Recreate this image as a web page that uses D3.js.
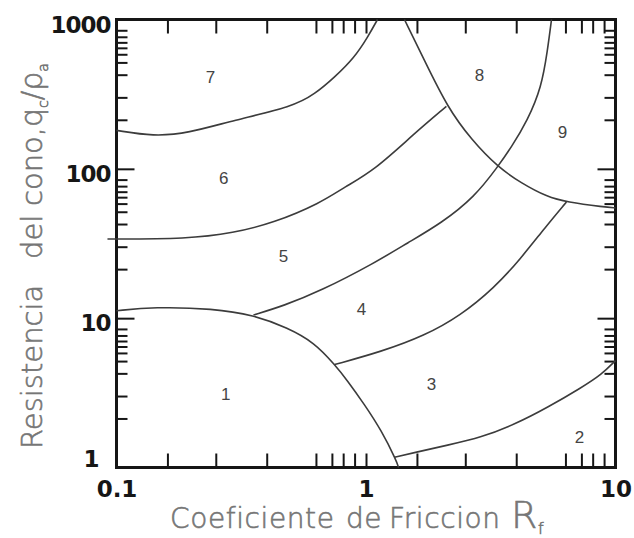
<!DOCTYPE html>
<html>
<head>
<meta charset="utf-8">
<script src="https://cdn.jsdelivr.net/npm/d3@7"></script>
<style>
  html, body { margin: 0; padding: 0; background: #ffffff; }
  svg { display: block; }
</style>
</head>
<body>
<svg id="chart" width="634" height="538"></svg>
<script>
// Soil behaviour type boundaries, each point is [Rf (%), qc/pa]
const boundary76 = [[0.1,181],[0.141,165],[0.193,173],[0.294,211],[0.512,262],[0.622,316],[0.748,410],[0.899,557],[1.014,758],[1.112,1000]];
const boundary65 = [[0.092,33.9],[0.193,33.9],[0.294,37.2],[0.426,43.4],[0.657,59],[0.820,75.5],[1.082,98],[1.565,173],[2.10,262]];
const boundary8  = [[1.426,1000],[1.715,532],[2.12,258],[2.65,156],[3.37,103],[4.20,80],[5.34,64.7],[6.36,60],[9.04,55.5],[10,54.7]];
const boundary54 = [[0.354,10.5],[0.467,12.1],[0.657,15.2],[1.082,23.4],[1.466,31.9],[2.01,43.4],[2.72,64.7],[3.37,103],[3.83,140],[4.44,211],[5.05,351],[5.34,621],[5.54,1000]];
const boundary43 = [[0.748,4.89],[1.153,5.97],[1.715,7.63],[2.39,10.4],[3.27,16.0],[4.16,24.9],[5.24,40.8],[6.36,60]];
const boundary1  = [[0.1,11.2],[0.141,11.9],[0.245,11.6],[0.354,10.5],[0.484,8.63],[0.622,6.85],[0.748,4.89],[0.843,3.82],[0.986,2.64],[1.153,1.77],[1.325,1.11],[1.35,1.0]];
const boundary32 = [[1.30,1.17],[1.565,1.26],[2.12,1.41],[2.90,1.59],[3.94,1.94],[5.34,2.52],[7.31,3.43],[8.79,4.19],[10,5.2]];

// Zone numbers and where they sit
const zoneNames = ["1","2","3","4","5","6","7","8","9"];
const zoneRf    = [0.274, 7.17, 1.83, 0.959, 0.467, 0.269, 0.238, 2.85, 6.13];
const zoneQ     = [3.08, 1.59, 3.59, 11.4, 25.7, 86.7, 410, 423, 176];

// Axis ticks
const xMajor = [0.1, 1, 10];
const xLabels = ["0.1", "1", "10"];
const xMinorSteps = [1.6, 2.5, 4.0, 6.3, 7.3, 8.1, 9.0];
const yMajor = [1, 10, 100, 1000];
const yLabels = ["1", "10", "100", "1000"];
const yMinorSteps = [2.13, 3.01, 4.27, 5.16, 5.85, 6.46, 7.03, 7.66, 8.47];

const svg = d3.select("#chart");
const L = 116.5, R = 615.5, T = 19.5, B = 467.5;

const x = d3.scaleLog().domain([0.1, 10]).range([L, R]);
const y = d3.scaleLog().domain([1, 1000]).range([B, T]);

const xMinor = [0.1, 1].flatMap(d => xMinorSteps.map(s => d * s));
const yMinor = [1, 10, 100].flatMap(d => yMinorSteps.map(s => d * s));

const ink = "#161616";

function styleAxis(g) {
  g.select(".domain").remove();
  g.selectAll(".tick line").attr("stroke", ink).attr("stroke-width", 2);
}

// bottom
svg.append("g").attr("transform", `translate(0,${B})`)
  .call(d3.axisBottom(x).tickValues(xMinor).tickSize(-14).tickFormat(""))
  .call(styleAxis);
const xAxisG = svg.append("g").attr("transform", `translate(0,${B})`)
  .call(d3.axisBottom(x).tickValues(xMajor).tickSize(-14)
    .tickFormat((d, i) => xLabels[i]))
  .call(styleAxis);
// top
svg.append("g").attr("transform", `translate(0,${T})`)
  .call(d3.axisTop(x).tickValues(xMinor.concat([1])).tickSize(-14).tickFormat(""))
  .call(styleAxis);
// left
svg.append("g").attr("transform", `translate(${L},0)`)
  .call(d3.axisLeft(y).tickValues(yMinor).tickSize(-11).tickFormat(""))
  .call(styleAxis);
const yAxisG = svg.append("g").attr("transform", `translate(${L},0)`)
  .call(d3.axisLeft(y).tickValues(yMajor).tickSize(-18)
    .tickFormat((d, i) => yLabels[i]))
  .call(styleAxis);
// right
svg.append("g").attr("transform", `translate(${R},0)`)
  .call(d3.axisRight(y).tickValues(yMinor).tickSize(-11).tickFormat(""))
  .call(styleAxis);
svg.append("g").attr("transform", `translate(${R},0)`)
  .call(d3.axisRight(y).tickValues(yMajor).tickSize(-18).tickFormat(""))
  .call(styleAxis);

// tick label styling
xAxisG.selectAll("text")
  .attr("font-family", "DejaVu Sans").attr("font-weight", "bold")
  .attr("font-size", 23).attr("fill", ink).attr("dy", "0.71em").attr("y", 13);
yAxisG.selectAll("text")
  .attr("font-family", "DejaVu Sans").attr("font-weight", "bold")
  .attr("font-size", 23).attr("fill", ink)
  .attr("letter-spacing", -1)
  .attr("dy", d => d === 1 ? "-0.05em" : "0.55em")
  .attr("x", d => d === 1 ? -18 : -6);

// frame
svg.append("rect")
  .attr("x", L).attr("y", T).attr("width", R - L).attr("height", B - T)
  .attr("fill", "none").attr("stroke", ink).attr("stroke-width", 3);

// boundaries
const line = d3.line()
  .x(d => x(d[0])).y(d => y(d[1]))
  .curve(d3.curveBasis);
const boundaries = [boundary76, boundary65, boundary8, boundary54, boundary43, boundary1, boundary32];
svg.append("g").selectAll("path").data(boundaries).join("path")
  .attr("d", line).attr("fill", "none")
  .attr("stroke", "#3c3c3c").attr("stroke-width", 1.6);

// zone numbers
svg.append("g").selectAll("text").data(zoneNames).join("text")
  .attr("x", (d, i) => x(zoneRf[i])).attr("y", (d, i) => y(zoneQ[i]))
  .attr("text-anchor", "middle").attr("dominant-baseline", "central")
  .attr("font-family", "Liberation Sans, Arial, sans-serif")
  .attr("font-size", 17).attr("fill", "#444")
  .text(d => d);

// axis titles
const titleColor = "#767676";
const xt = svg.append("text")
  .attr("y", 528)
  .attr("font-family", "DejaVu Sans").attr("font-weight", 200)
  .attr("font-size", 28).attr("fill", titleColor)
  .attr("stroke", titleColor).attr("stroke-width", 0.6)
  .attr("letter-spacing", 0.6);
xt.append("tspan").attr("x", 170).text("Coeficiente");
xt.append("tspan").attr("x", 346).text("de");
xt.append("tspan").attr("x", 389).text("Friccion");
xt.append("tspan").attr("x", 511).attr("font-size", 38).text("R");
xt.append("tspan").attr("font-size", 16).attr("dy", 6).text("f");

const yt = svg.append("text")
  .attr("transform", "translate(42,449) rotate(-90)")
  .attr("font-family", "DejaVu Sans").attr("font-weight", 200)
  .attr("font-size", 29).attr("fill", titleColor)
  .attr("stroke", titleColor).attr("stroke-width", 0.6);
yt.append("tspan").attr("x", 0).text("Resistencia");
yt.append("tspan").attr("x", 190).text("del");
yt.append("tspan").attr("x", 243).text("cono,");
yt.append("tspan").attr("font-size", 30).text("q");
yt.append("tspan").attr("font-size", 14).attr("dy", 6).text("c");
yt.append("tspan").attr("font-size", 28).attr("dy", -6).text("/");
yt.append("tspan").attr("font-size", 30).text("ρ");
yt.append("tspan").attr("font-size", 14).attr("dy", 6).text("a");
</script>
</body>
</html>
